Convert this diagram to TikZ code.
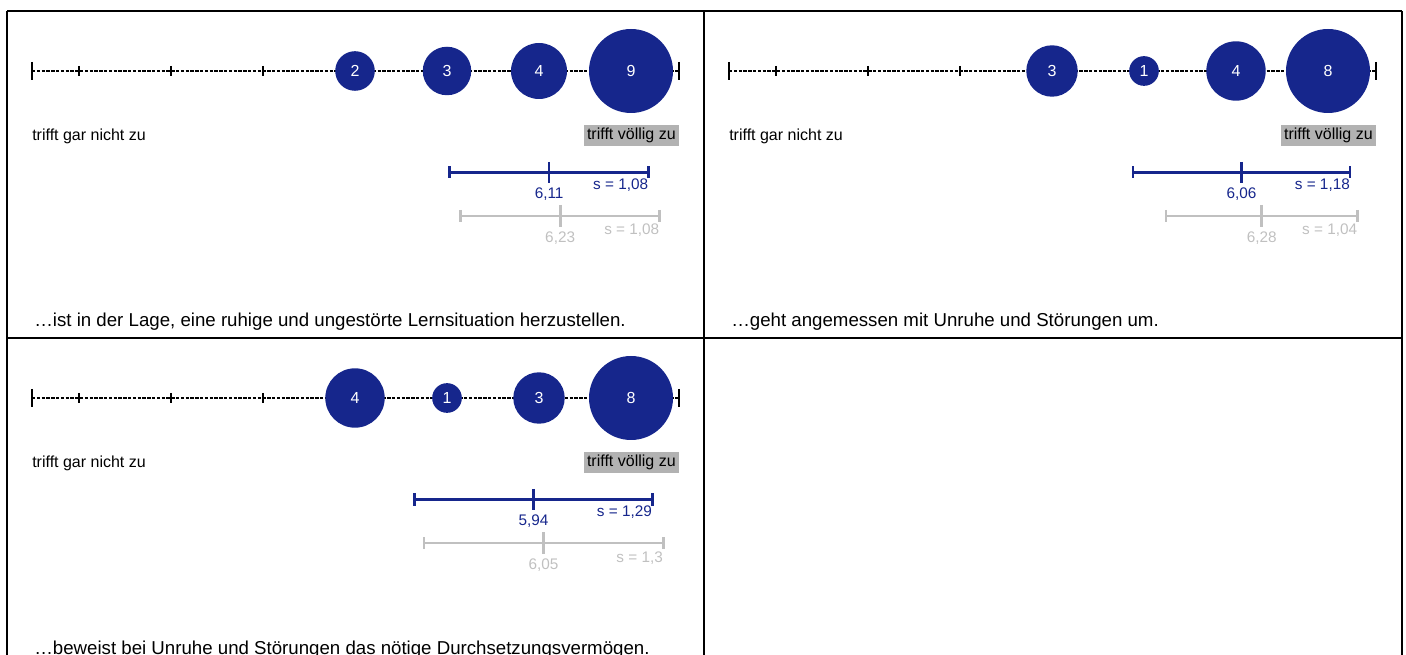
\documentclass[tikz,border=0pt]{standalone}
\usepackage{fontspec}
\setmainfont{Liberation Sans}
\definecolor{bar}{RGB}{22,38,140}
\definecolor{lg}{RGB}{192,192,192}
\definecolor{boxg}{RGB}{178,178,178}
\tikzset{
  framel/.style={line width=1.2pt, draw=black},
  scaledash/.style={line width=1.8pt, dash pattern=on 2.6pt off 1pt},
  endcap/.style={line width=1.8pt},
  scaletick/.style={line width=1.6pt},
  bubble/.style={circle, fill=bar, inner sep=0pt, text=white, font=\fontsize{12}{14}\selectfont},
  lowlab/.style={font=\fontsize{12}{14}\selectfont, inner sep=0pt},
  highlab/.style={font=\fontsize{12}{14}\selectfont, fill=boxg, inner xsep=2.3pt, inner ysep=0pt, minimum height=15.75pt},
  caption/.style={font=\fontsize{14}{16}\selectfont, inner sep=0pt},
  barline/.style={line width=2pt},
  statlab/.style={font=\fontsize{11.5}{13}\selectfont, inner sep=0pt}
}
\newcommand\mypanel[6]{%
  \pgfmathsetmacro\mx{max(#2,#3,#4,#5)}
  \draw[scaledash] (32,71) -- (679,71);
  \draw[endcap] (32,62) -- (32,80);
  \draw[endcap] (679,62) -- (679,80);
  \foreach \t in {79,171,263,355,447,539,631} \draw[scaletick] (\t,66) -- (\t,76);
  \node[bubble, minimum size={63*sqrt(#2/\mx)*1pt}] (#1c4) at (355,71) {#2};
  \node[bubble, minimum size={63*sqrt(#3/\mx)*1pt}] (#1c5) at (447,71) {#3};
  \node[bubble, minimum size={63*sqrt(#4/\mx)*1pt}] (#1c6) at (539,71) {#4};
  \node[bubble, minimum size={63*sqrt(#5/\mx)*1pt}] (#1c7) at (631,71) {#5};
  \node[lowlab, anchor=base west] (#1lo) at (32,141) {trifft gar nicht zu};
  \node[highlab, anchor=east] (#1hi) at (679,135.5) {\strut trifft völlig zu};
  \node[caption, anchor=base west] (#1cap) at (34,327) {#6};
}
\newcommand\mystats[9]{%
  \coordinate (#1bl) at ({79+(#2-#3-1)*92},172.5);
  \coordinate (#1br) at ({79+(#2+#3-1)*92},172.5);
  \coordinate (#1bm) at ({79+(#2-1)*92},172.5);
  \draw[barline, bar] (#1bl) -- (#1br);
  \draw[barline, bar] (#1bl) ++(0,-6) -- ++(0,12);
  \draw[barline, bar] (#1br) ++(0,-6) -- ++(0,12);
  \draw[barline, bar] (#1bm) ++(0,-10.5) -- ++(0,21);
  \node[statlab, text=bar, anchor=base] (#1bml) at ({79+(#2-1)*92},199) {#6};
  \node[statlab, text=bar, anchor=base east] (#1bsl) at ({79+(#2+#3-1)*92},190) {#7};
  \coordinate (#1gl) at ({79+(#4-#5-1)*92},216);
  \coordinate (#1gr) at ({79+(#4+#5-1)*92},216);
  \coordinate (#1gm) at ({79+(#4-1)*92},216);
  \draw[barline, lg] (#1gl) -- (#1gr);
  \draw[barline, lg] (#1gl) ++(0,-6) -- ++(0,12);
  \draw[barline, lg] (#1gr) ++(0,-6) -- ++(0,12);
  \draw[barline, lg] (#1gm) ++(0,-11) -- ++(0,22);
  \node[statlab, text=lg, anchor=base] (#1gml) at ({79+(#4-1)*92},242.5) {#8};
  \node[statlab, text=lg, anchor=base east] (#1gsl) at ({79+(#4+#5-1)*92},235) {#9};
}
\begin{document}
\begin{tikzpicture}[x=0.75pt, y=-0.75pt]
\useasboundingbox (0,0) rectangle (1406,655);
% frame
\draw[framel] (7,11) -- (1402,11);
\draw[framel] (7,11) -- (7,655);
\draw[framel] (704,11) -- (704,655);
\draw[framel] (1402,11) -- (1402,655);
\draw[framel] (7,338) -- (1402,338);
% panel 1
\mypanel{a}{2}{3}{4}{9}{…ist in der Lage, eine ruhige und ungestörte Lernsituation herzustellen.}
\mystats{a}{6.11}{1.08}{6.23}{1.08}{6,11}{s = 1,08}{6,23}{s = 1,08}
% panel 2
\begin{scope}[shift={(697,0)}]
\mypanel{b}{3}{1}{4}{8}{…geht angemessen mit Unruhe und Störungen um.}
\mystats{b}{6.06}{1.18}{6.28}{1.04}{6,06}{s = 1,18}{6,28}{s = 1,04}
\end{scope}
% panel 3
\begin{scope}[shift={(0,327)}]
\mypanel{c}{4}{1}{3}{8}{…beweist bei Unruhe und Störungen das nötige Durchsetzungsvermögen.}
\mystats{c}{5.94}{1.29}{6.05}{1.3}{5,94}{s = 1,29}{6,05}{s = 1,3}
\end{scope}
\end{tikzpicture}
\end{document}
